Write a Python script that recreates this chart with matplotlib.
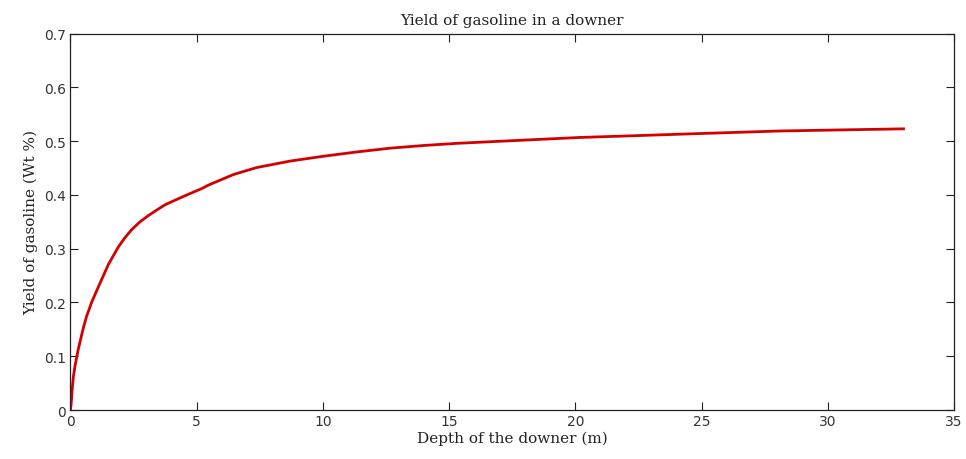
import matplotlib
matplotlib.use("Agg")
import matplotlib.pyplot as plt

# Gasoline yield along the downer reactor
depth_m = [0.0, 0.03, 0.08, 0.12, 0.19, 0.25, 0.32, 0.46, 0.54, 0.65, 0.85,
           1.12, 1.31, 1.51, 1.91, 2.17, 2.44, 2.76, 3.1, 3.49, 3.76, 4.42,
           4.81, 5.21, 5.5, 6.46, 7.38, 8.7, 10.02, 11.34, 12.66, 13.98,
           15.3, 16.62, 18.4, 20.2, 22.2, 24.1, 26.1, 28.1, 30.5, 33.0]
yield_wt = [0.0, 0.010, 0.042, 0.062, 0.083, 0.098, 0.114, 0.142, 0.157,
            0.175, 0.201, 0.230, 0.250, 0.271, 0.304, 0.321, 0.336, 0.350,
            0.362, 0.374, 0.382, 0.396, 0.404, 0.412, 0.419, 0.438, 0.451,
            0.463, 0.472, 0.480, 0.487, 0.492, 0.496, 0.499, 0.503, 0.507,
            0.510, 0.513, 0.516, 0.519, 0.521, 0.523]

x_ticks = [0, 5, 10, 15, 20, 25, 30, 35]
y_ticks = [0, 0.1, 0.2, 0.3, 0.4, 0.5, 0.6, 0.7]
y_tick_labels = ["0", "0.1", "0.2", "0.3", "0.4", "0.5", "0.6", "0.7"]

fig = plt.figure(figsize=(9.66, 4.6), dpi=100)
ax = fig.add_axes([0.0728, 0.1065, 0.9148, 0.8181])

ax.plot(depth_m, yield_wt, color="#d40000", linewidth=2.0,
        solid_joinstyle="round")

ax.set_xlim(0, 35)
ax.set_ylim(0, 0.7)
ax.set_xticks(x_ticks)
ax.set_xticklabels([str(t) for t in x_ticks])
ax.set_yticks(y_ticks)
ax.set_yticklabels(y_tick_labels)

ax.tick_params(direction="in", length=5.5, width=0.8, top=True, right=True,
               pad=3, colors="#222222", labelcolor="#333333")
for lbl in ax.get_xticklabels() + ax.get_yticklabels():
    lbl.set_family(["DejaVu Sans"])
    lbl.set_fontsize(10)
for s in ax.spines.values():
    s.set_linewidth(0.9)
    s.set_color("#222222")

serif = ["DejaVu Serif"]
ax.set_title("Yield of gasoline in a downer", family=serif, fontsize=11,
             pad=7, color="#222222")
ax.set_xlabel("Depth of the downer (m)", family=serif, fontsize=11,
              labelpad=2, color="#222222")
ax.set_ylabel("Yield of gasoline (Wt %)", family=serif, fontsize=11,
              labelpad=4, color="#222222")

fig.savefig("out.png", dpi=100)
